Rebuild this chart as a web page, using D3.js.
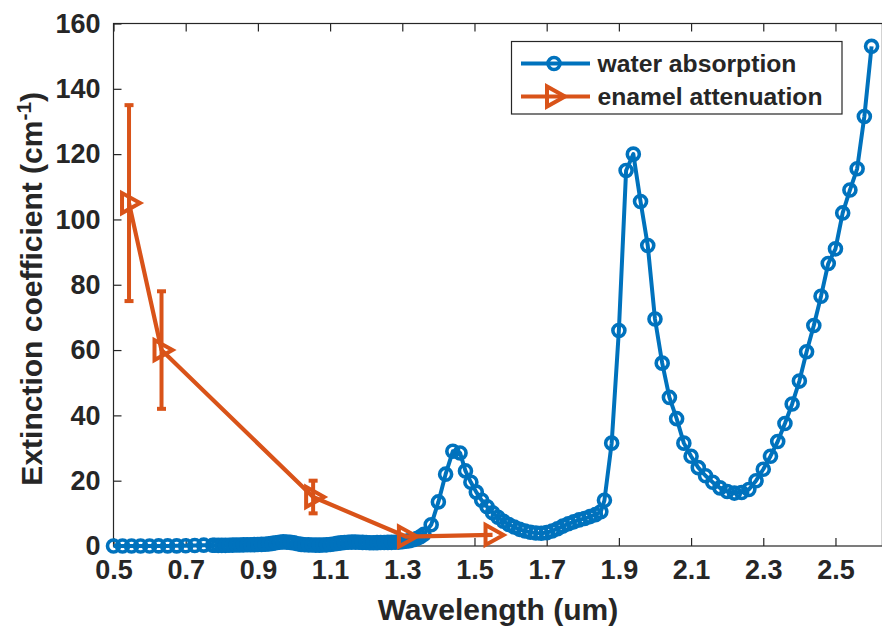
<!DOCTYPE html>
<html>
<head>
<meta charset="utf-8">
<script src="https://cdn.jsdelivr.net/npm/d3@7"></script>
<style>
  body { margin: 0; background: #fff; }
  text { font-family: "Liberation Sans", Arial, Helvetica, sans-serif; font-weight: bold; fill: #262626; }
</style>
</head>
<body>
<svg id="chart" width="882" height="628"></svg>
<script>
// water absorption (cm^-1) vs wavelength (um)
const waterWavelength = [
  0.500, 0.525, 0.550, 0.575, 0.600, 0.625, 0.650, 0.675, 0.700, 0.725, 0.750, 0.775,
  0.78, 0.79, 0.80, 0.81, 0.82, 0.83, 0.84, 0.85, 0.86, 0.87, 0.88, 0.89,
  0.90, 0.91, 0.92, 0.93, 0.94, 0.95, 0.96, 0.97, 0.98, 0.99,
  1.00, 1.01, 1.02, 1.03, 1.04, 1.05, 1.06, 1.07, 1.08, 1.09,
  1.10, 1.11, 1.12, 1.13, 1.14, 1.15, 1.16, 1.17, 1.18, 1.19,
  1.20, 1.21, 1.22, 1.23, 1.24, 1.25, 1.26, 1.27, 1.28, 1.29,
  1.30, 1.31, 1.32, 1.33, 1.34, 1.35, 1.36,
  1.38, 1.40, 1.42, 1.44, 1.46,
  1.475, 1.49, 1.505, 1.52, 1.535, 1.55, 1.565, 1.58, 1.595,
  1.61, 1.625, 1.64, 1.655, 1.67, 1.685, 1.70, 1.715, 1.73, 1.745,
  1.76, 1.775, 1.79, 1.805, 1.82, 1.835, 1.85, 1.86, 1.88,
  1.90, 1.92, 1.94, 1.96, 1.98, 2.00, 2.02, 2.04, 2.06, 2.08,
  2.10, 2.12, 2.14, 2.16, 2.18, 2.20, 2.22, 2.24, 2.26, 2.28,
  2.30, 2.32, 2.34, 2.36, 2.38, 2.40, 2.42, 2.44, 2.46, 2.48,
  2.50, 2.52, 2.54, 2.56, 2.58, 2.60
];
const waterAbsorption = [
  0.003, 0.004, 0.006, 0.009, 0.022, 0.028, 0.032, 0.041, 0.06, 0.16, 0.26, 0.24,
  0.23, 0.2, 0.2, 0.2, 0.25, 0.28, 0.3, 0.32, 0.35, 0.38, 0.4, 0.42,
  0.45, 0.5, 0.55, 0.65, 0.8, 1.0, 1.15, 1.25, 1.2, 1.1,
  0.95, 0.7, 0.5, 0.4, 0.35, 0.3, 0.28, 0.27, 0.3, 0.35,
  0.45, 0.6, 0.8, 0.95, 1.05, 1.15, 1.2, 1.2, 1.15, 1.1,
  1.05, 1.0, 1.0, 1.02, 1.05, 1.08, 1.1, 1.12, 1.15, 1.2,
  1.3, 1.45, 1.65, 1.9, 2.3, 2.8, 3.6,
  6.5, 13.5, 22, 29, 28.5,
  23, 19.5, 16.5, 14, 12, 10.2, 8.8, 7.6, 6.6,
  5.8, 5.1, 4.6, 4.2, 4.0, 3.9, 4.1, 4.6, 5.3, 6.1,
  6.8, 7.4, 8.0, 8.4, 9.0, 9.6, 10.5, 14, 31.5,
  66, 115, 120, 105.5, 92, 69.5, 56, 45.5, 39, 31.5,
  27.5, 24, 21.5, 19.5, 17.8, 16.7, 16.2, 16.4, 17.3, 20,
  23.5, 27.5, 32, 37.5, 43.5, 50.5, 59.5, 67.5, 76.5, 86.5,
  91, 102, 109, 115.5, 131.5, 153
];

// enamel attenuation (cm^-1) with error bars
const enamelWavelength = [0.543, 0.633, 1.053, 1.31, 1.55];
const enamelAttenuation = [105, 60, 15, 2.9, 3.4];
const enamelError = [30, 18, 5, 0, 0];

const xTicks = [0.5, 0.7, 0.9, 1.1, 1.3, 1.5, 1.7, 1.9, 2.1, 2.3, 2.5];
const yTicks = [0, 20, 40, 60, 80, 100, 120, 140, 160];
const seriesNames = ["water absorption", "enamel attenuation"];

const blue = "#0072BD";
const orange = "#D95319";
const axisColor = "#262626";

const svg = d3.select("#chart");
const plotLeft = 113.5, plotRight = 882.4, plotTop = 23.5, plotBottom = 546;

const x = d3.scaleLinear().domain([0.5, 2.63]).range([plotLeft, plotRight]);
const y = d3.scaleLinear().domain([0, 160]).range([plotBottom, plotTop]);

// axes box with inward ticks
const gAxes = svg.append("g");
gAxes.append("rect")
  .attr("x", plotLeft).attr("y", plotTop)
  .attr("width", plotRight - plotLeft).attr("height", plotBottom - plotTop)
  .attr("fill", "none").attr("stroke", axisColor).attr("stroke-width", 1.2);

const xAxis = gAxes.append("g")
  .attr("transform", `translate(0,${plotBottom})`)
  .call(d3.axisBottom(x).tickValues(xTicks).tickFormat(d3.format(".1f")).tickSizeInner(-8).tickSizeOuter(0).tickPadding(14));
xAxis.select(".domain").remove();
xAxis.selectAll("line").attr("stroke", axisColor).attr("stroke-width", 1.2);
xAxis.selectAll("text").style("font-size", "27px").attr("fill", axisColor);

const xAxisTop = gAxes.append("g")
  .attr("transform", `translate(0,${plotTop})`)
  .call(d3.axisTop(x).tickValues(xTicks).tickFormat("").tickSizeInner(-8).tickSizeOuter(0));
xAxisTop.select(".domain").remove();
xAxisTop.selectAll("line").attr("stroke", axisColor).attr("stroke-width", 1.2);

const yAxis = gAxes.append("g")
  .attr("transform", `translate(${plotLeft},0)`)
  .call(d3.axisLeft(y).tickValues(yTicks).tickSizeInner(-8).tickSizeOuter(0).tickPadding(13));
yAxis.select(".domain").remove();
yAxis.selectAll("line").attr("stroke", axisColor).attr("stroke-width", 1.2);
yAxis.selectAll("text").style("font-size", "27px").attr("fill", axisColor);

// axis labels
svg.append("text")
  .attr("x", (plotLeft + plotRight) / 2).attr("y", 620)
  .attr("text-anchor", "middle")
  .style("font-size", "30px")
  .text("Wavelength (um)");

const yLabel = svg.append("text")
  .attr("transform", `translate(42,${(plotTop + plotBottom) / 2 + 4}) rotate(-90)`)
  .attr("text-anchor", "middle")
  .style("font-size", "30px");
yLabel.append("tspan").text("Extinction coefficient (cm");
yLabel.append("tspan").attr("dy", -11).style("font-size", "21px").text("-1");
yLabel.append("tspan").attr("dy", 11).text(")");

// water absorption
const water = waterWavelength.map((w, i) => ({ w, v: waterAbsorption[i] }));
const line = d3.line().x(d => x(d.w)).y(d => y(d.v));

svg.append("path")
  .datum(water)
  .attr("d", line)
  .attr("fill", "none").attr("stroke", blue).attr("stroke-width", 4)
  .attr("stroke-linejoin", "round");

svg.append("g").selectAll("circle")
  .data(water)
  .join("circle")
  .attr("cx", d => x(d.w)).attr("cy", d => y(d.v))
  .attr("r", 6)
  .attr("fill", "none").attr("stroke", blue).attr("stroke-width", 3.6);

// enamel attenuation
const enamel = enamelWavelength.map((w, i) => ({ w, v: enamelAttenuation[i], e: enamelError[i] }));

svg.append("path")
  .datum(enamel)
  .attr("d", line)
  .attr("fill", "none").attr("stroke", orange).attr("stroke-width", 4.2)
  .attr("stroke-linejoin", "round");

const bars = svg.append("g").selectAll("g")
  .data(enamel.filter(d => d.e > 0))
  .join("g")
  .attr("stroke", orange).attr("stroke-width", 4);
bars.append("line")
  .attr("x1", d => x(d.w)).attr("x2", d => x(d.w))
  .attr("y1", d => y(d.v - d.e)).attr("y2", d => y(d.v + d.e));
bars.append("line")
  .attr("x1", d => x(d.w) - 4.5).attr("x2", d => x(d.w) + 4.5)
  .attr("y1", d => y(d.v + d.e)).attr("y2", d => y(d.v + d.e));
bars.append("line")
  .attr("x1", d => x(d.w) - 4.5).attr("x2", d => x(d.w) + 4.5)
  .attr("y1", d => y(d.v - d.e)).attr("y2", d => y(d.v - d.e));

const tri = "M-7,-10 L-7,10 L11,0 Z";
svg.append("g").selectAll("path")
  .data(enamel)
  .join("path")
  .attr("d", tri)
  .attr("transform", d => `translate(${x(d.w)},${y(d.v)})`)
  .attr("fill", "none").attr("stroke", orange).attr("stroke-width", 4)
  .attr("stroke-linejoin", "miter");

// legend
const legend = svg.append("g");
legend.append("rect")
  .attr("x", 511.5).attr("y", 41.5).attr("width", 330.5).attr("height", 72.5)
  .attr("fill", "#fff").attr("stroke", axisColor).attr("stroke-width", 1.2);

const rows = [
  { name: seriesNames[0], color: blue, cy: 63.5, marker: "circle" },
  { name: seriesNames[1], color: orange, cy: 96.5, marker: "tri" }
];
rows.forEach(r => {
  legend.append("line")
    .attr("x1", 521).attr("x2", 590).attr("y1", r.cy).attr("y2", r.cy)
    .attr("stroke", r.color).attr("stroke-width", 4);
  if (r.marker === "circle") {
    legend.append("circle").attr("cx", 554).attr("cy", r.cy).attr("r", 6)
      .attr("fill", "none").attr("stroke", r.color).attr("stroke-width", 3.6);
  } else {
    legend.append("path").attr("d", tri).attr("transform", `translate(554,${r.cy})`)
      .attr("fill", "none").attr("stroke", r.color).attr("stroke-width", 4);
  }
  legend.append("text")
    .attr("x", 597.5).attr("y", r.cy + 8.8)
    .style("font-size", "24.7px")
    .text(r.name);
});
</script>
</body>
</html>
